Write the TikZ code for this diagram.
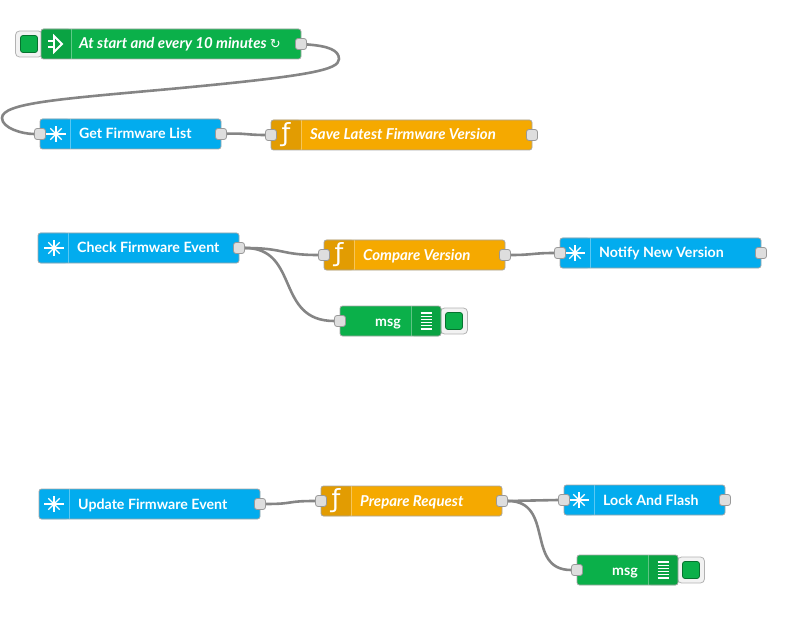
\documentclass[tikz,border=0pt]{standalone}
\usepackage{fontspec}
\setmainfont{Lato}
\newfontfamily\symbfont{DejaVu Sans}
\usetikzlibrary{backgrounds}
\definecolor{flowgreen}{HTML}{0BB04A}
\definecolor{flowgreendark}{HTML}{0AA343}
\definecolor{flowblue}{HTML}{02ACEE}
\definecolor{floworange}{HTML}{F5A900}
\definecolor{floworangedark}{HTML}{E29C02}
\tikzset{
  flownode/.style={draw=black!35,line width=.8pt,rounded corners=2.5pt,inner sep=0pt,outer sep=0pt,minimum height=30pt,anchor=west},
  leftpanel/.style={path picture={\fill[#1](path picture bounding box.north west)rectangle ++(30,30);
    \draw[white,opacity=.35,line width=.7pt]([xshift=30pt]path picture bounding box.north west)--++(0,30);}},
  rightpanel/.style={path picture={\fill[#1](path picture bounding box.north east)rectangle ++(-30,30);
    \draw[white,opacity=.35,line width=.7pt]([xshift=-30pt]path picture bounding box.north east)--++(0,30);}},
  injectnode/.style={flownode,fill=flowgreen,leftpanel=flowgreendark},
  httpnode/.style={flownode,fill=flowblue,leftpanel=flowblue},
  funcnode/.style={flownode,fill=floworange,leftpanel=floworangedark},
  debugnode/.style={flownode,fill=flowgreen,rightpanel=flowgreendark},
  lbl/.style={text=white,anchor=west,inner sep=0pt,text height=14pt,text depth=3pt,font=\fontsize{14.2}{16}\selectfont\bfseries},
  lblit/.style={lbl,font=\fontsize{15}{16}\selectfont\bfseries\itshape},
  funcicon/.style={text=white,inner sep=0pt,font=\symbfont\fontsize{25}{25}\selectfont},
  port/.style={draw=black!40,fill=black!13,line width=.8pt,rounded corners=2.5pt,minimum size=11pt,inner sep=0pt},
  btn/.style={draw=black!30,fill=black!5,line width=.8pt,rounded corners=4pt,minimum width=27pt,minimum height=26pt,inner sep=0pt},
  btnin/.style={draw=flowgreendark!70!black,fill=flowgreen,line width=.8pt,rounded corners=2.5pt,minimum size=17pt,inner sep=0pt},
  wire/.style={draw=black!48,line width=2.6pt},
  burst/.pic={\draw[white,line width=1.4pt](-10,0)--(10,0);
    \foreach \a in {45,90,135}\draw[white,line width=1.4pt](\a:8)--(\a+180:8);},
  arrowglyph/.pic={\draw[white,line width=2.2pt](-7,-3)--(-1,-3)(-7,3)--(-1,3);
    \draw[white,line width=1.8pt,line join=miter](-1,-8)--(7,0)--(-1,8)--cycle;},
  listglyph/.pic={\foreach \y in {-8,-4.8,...,8.1}\draw[white,line width=1.1pt](-5.5,\y)--(5.5,\y);}
}
\begin{document}
\begin{tikzpicture}[x=1pt,y=-1pt]
\useasboundingbox(0,0)rectangle(796,623);
% first flow
\node[btn](injectbtn)at(29,44){};
\node[btnin](injectsq)at(injectbtn){};
\node[injectnode,minimum width=260pt](inject)at(41,44){};
\node[httpnode,minimum width=181pt](getlist)at(40,134){};
\node[funcnode,minimum width=261pt](savever)at(271,135){};
\node[lblit](injectlbl)at(79,43.5){At start and every 10 minutes {\symbfont\fontsize{13}{13}\selectfont\mdseries ↻}};
\node[lbl](getlistlbl)at(79,133.5){Get Firmware List};
\node[lblit](saveverlbl)at(310,134.5){Save Latest Firmware Version};
% second flow
\node[httpnode,minimum width=201pt](checkev)at(38,248){};
\node[funcnode,minimum width=181pt](compare)at(324,255){};
\node[httpnode,minimum width=201pt](notify)at(560,253){};
\node[btn](msgabtn)at(454,321){};
\node[btnin](msgasq)at(msgabtn){};
\node[debugnode,minimum width=101pt](msga)at(340,321){};
\node[lbl](checkevlbl)at(77,247.5){Check Firmware Event};
\node[lblit](comparelbl)at(363,254.5){Compare Version};
\node[lbl](notifylbl)at(599,252.5){Notify New Version};
\node[lbl](msgalbl)at(375,320.5){msg};
% third flow
\node[httpnode,minimum width=221pt](updateev)at(39,504){};
\node[funcnode,minimum width=181pt](prepare)at(321,501){};
\node[httpnode,minimum width=161pt](lockfl)at(564,500){};
\node[btn](msgbbtn)at(691,570){};
\node[btnin](msgbsq)at(msgbbtn){};
\node[debugnode,minimum width=101pt](msgb)at(577,570){};
\node[lbl](updateevlbl)at(78,503.5){Update Firmware Event};
\node[lblit](preparelbl)at(360,500.5){Prepare Request};
\node[lbl](lockfllbl)at(603,499.5){Lock And Flash};
\node[lbl](msgblbl)at(612,569.5){msg};
% icons
\path(inject.west)++(14,0)pic{arrowglyph};
\path(getlist.west)++(16,0)pic{burst};
\path(checkev.west)++(16,0)pic{burst};
\path(notify.west)++(15,0)pic{burst};
\path(updateev.west)++(15,0)pic{burst};
\path(lockfl.west)++(15,0)pic{burst};
\path(msga.east)++(-15,0)pic{listglyph};
\path(msgb.east)++(-15,0)pic{listglyph};
\node[funcicon](savef)at([xshift=15pt]savever.west){ƒ};
\node[funcicon](comparef)at([xshift=15pt]compare.west){ƒ};
\node[funcicon](preparef)at([xshift=15pt]prepare.west){ƒ};
% ports
\foreach \n/\a in {inject/east,getlist/west,getlist/east,savever/west,savever/east,
  checkev/east,compare/west,compare/east,notify/west,notify/east,msga/west,
  updateev/east,prepare/west,prepare/east,lockfl/west,lockfl/east,msgb/west}
  \node[port](\n\a)at(\n.\a){};
% wires
\begin{scope}[on background layer]
\draw[wire](injecteast)..controls(328,46)and(339,50)..(339,59)
  ..controls(339,70)and(310,76)..(170,89)
  ..controls(60,99)and(2,103)..(2,118)
  ..controls(2,128)and(22,134)..(getlistwest);
\draw[wire](getlisteast)..controls(245,133)and(247,135)..(saveverwest);
\draw[wire](checkeveast)..controls(285,248)and(280,255)..(comparewest);
\draw[wire](checkeveast)..controls(300,248)and(275,321)..(msgawest);
\draw[wire](compareeast)..controls(533,255)and(533,253)..(notifywest);
\draw[wire](updateeveast)..controls(295,504)and(285,501)..(preparewest);
\draw[wire](prepareeast)..controls(533,501)and(533,500)..(lockflwest);
\draw[wire](prepareeast)..controls(555,501)and(525,570)..(msgbwest);
\end{scope}
\end{tikzpicture}
\end{document}
